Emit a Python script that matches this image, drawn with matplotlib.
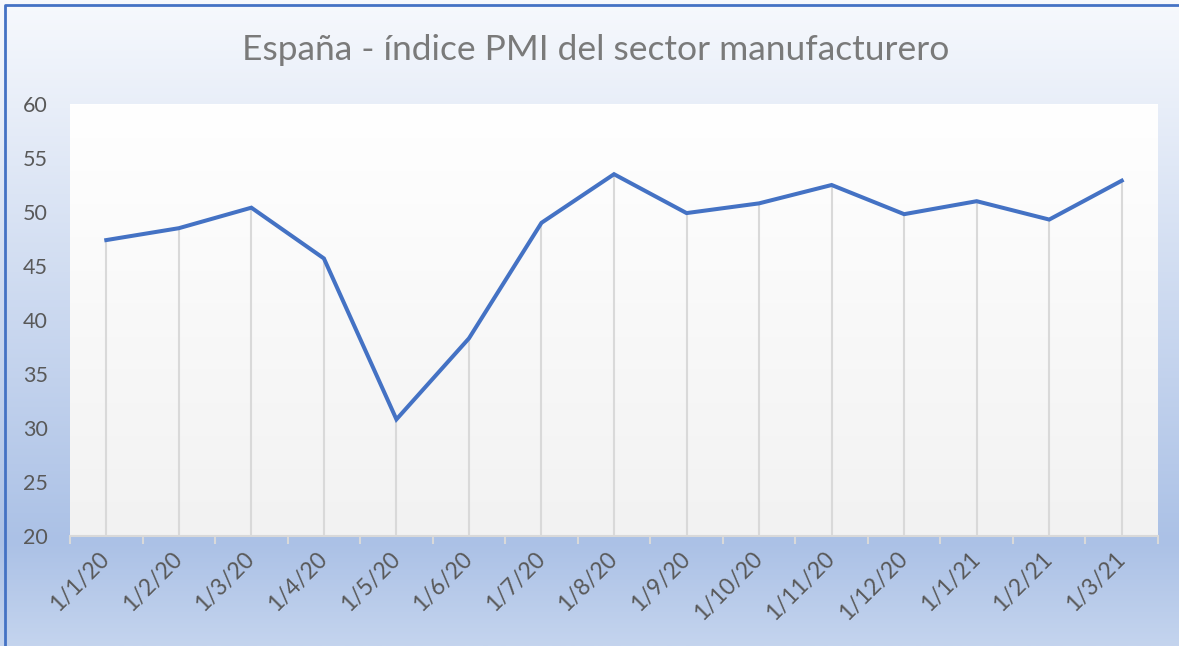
import numpy as np
import matplotlib.pyplot as plt
from matplotlib.colors import LinearSegmentedColormap

# PMI manufacturero España
fechas = ['1/1/20', '1/2/20', '1/3/20', '1/4/20', '1/5/20', '1/6/20', '1/7/20', '1/8/20',
          '1/9/20', '1/10/20', '1/11/20', '1/12/20', '1/1/21', '1/2/21', '1/3/21']
pmi = [47.4, 48.5, 50.4, 45.7, 30.8, 38.3, 49.0, 53.5, 49.9, 50.8, 52.5, 49.8, 51.0, 49.3, 52.9]
yticks = [20, 25, 30, 35, 40, 45, 50, 55, 60]

plt.rcParams['font.family'] = ['Lato', 'DejaVu Sans']

fig = plt.figure(figsize=(11.79, 6.46), dpi=100)

# fondo degradado de la figura
bg = fig.add_axes([0, 0, 1, 1], zorder=-10)
cmap_bg = LinearSegmentedColormap.from_list(
    'bg', [(0.0, '#f7f9fd'), (0.84, '#abc1e6'), (1.0, '#c4d4ee')])
grad = np.linspace(0, 1, 256).reshape(-1, 1)
bg.imshow(grad, aspect='auto', cmap=cmap_bg, extent=[0, 1, 0, 1], origin='upper')
bg.set_xlim(0, 1)
bg.set_ylim(0, 1)
bg.axis('off')
# borde azul (arriba e izquierda)
bg.plot([0.0045, 0.0045, 1], [0, 0.9915, 0.9915], color='#4472c4', lw=2,
        transform=bg.transAxes, clip_on=False)

ax = fig.add_axes([0.0594, 0.1703, 0.9228, 0.6687])
x = np.arange(len(fechas))

# fondo del area de trazado
cmap_pa = LinearSegmentedColormap.from_list('pa', ['#ffffff', '#f2f2f2'])
ax.imshow(grad, aspect='auto', cmap=cmap_pa, extent=[-0.5, len(fechas) - 0.5, 20, 60],
          origin='upper', zorder=0)

# lineas de caida
ax.vlines(x, 20, pmi, color='#d9d9d9', lw=1.5, zorder=1)
ax.plot(x, pmi, color='#4472c4', lw=2.9, solid_joinstyle='miter', zorder=3)

ax.set_xlim(-0.5, len(fechas) - 0.5)
ax.set_ylim(20, 60)
ax.set_yticks(yticks)
ax.tick_params(axis='y', length=0, pad=16, labelsize=15.5, labelcolor='#595959')

ax.set_xticks(x)
ax.set_xticklabels(fechas)
ax.set_xticks(np.arange(-0.5, len(fechas)), minor=True)
ax.tick_params(axis='x', which='major', length=0, pad=14, labelsize=16.5, labelcolor='#595959')
ax.tick_params(axis='x', which='minor', length=6, width=1.5, color='#d9d9d9', direction='out')
for lbl in ax.get_xticklabels():
    lbl.set_rotation(45)
    lbl.set_ha('right')
    lbl.set_va('center')
    lbl.set_rotation_mode('anchor')

for s in ['top', 'right', 'left']:
    ax.spines[s].set_visible(False)
ax.spines['bottom'].set_color('#d9d9d9')
ax.spines['bottom'].set_linewidth(1.5)

fig.text(0.505, 1 - 50 / 646, 'España - índice PMI del sector manufacturero',
         ha='center', va='center', fontsize=25.5, color='#7a7a7a')

fig.savefig('out.png', dpi=100)
